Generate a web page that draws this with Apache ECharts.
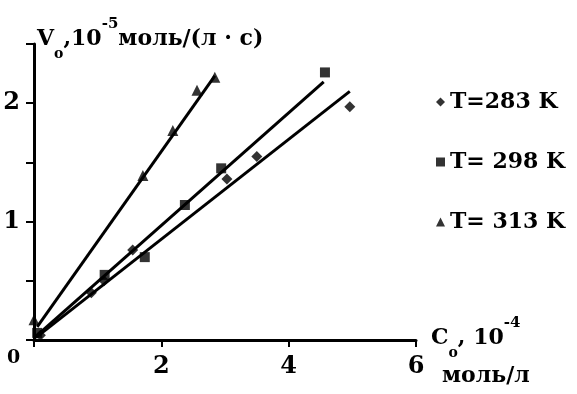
<!DOCTYPE html>
<html>
<head>
<meta charset="utf-8">
<script src="https://cdn.jsdelivr.net/npm/echarts@6/dist/echarts.min.js"></script>
<style>
html, body { margin: 0; padding: 0; background: #fff; }
#chart { width: 577px; height: 394px; }
</style>
</head>
<body>
<div id="chart"></div>
<script>
// values
var seriesNames = ['T=283 K', 'T= 298 K', 'T= 313 K'];
var seriesSymbols = ['diamond', 'rect', 'triangle'];

var x283 = [0.10, 0.90, 1.10, 1.55, 3.03, 3.50, 4.96];
var y283 = [0.04, 0.40, 0.50, 0.76, 1.36, 1.55, 1.97];
var x298 = [0.05, 1.11, 1.74, 2.37, 2.94, 4.57];
var y298 = [0.06, 0.55, 0.70, 1.14, 1.45, 2.26];
var x313 = [0.00, 1.71, 2.18, 2.56, 2.84];
var y313 = [0.17, 1.39, 1.77, 2.11, 2.22];

// straight fitted lines, ends
var fitX283 = [0.03, 4.96], fitY283 = [0.02, 2.10];
var fitX298 = [0.03, 4.55], fitY298 = [0.03, 2.18];
var fitX313 = [0.05, 2.84], fitY313 = [0.11, 2.23];

var yTickLabels = [1, 2];

function zip(xs, ys) {
    var out = [];
    for (var i = 0; i < xs.length; i++) {
        out.push([xs[i], ys[i]]);
    }
    return out;
}

var FONT = 'DejaVu Serif';
var pointSets = [zip(x283, y283), zip(x298, y298), zip(x313, y313)];
var fitSets = [zip(fitX283, fitY283), zip(fitX298, fitY298), zip(fitX313, fitY313)];
var symbolSizes = [11, 10, 11];

var series = [];
for (var k = 0; k < 3; k++) {
    series.push({
        type: 'line',
        data: fitSets[k],
        symbol: 'none',
        silent: true,
        lineStyle: { color: '#000', width: 3 },
        z: 2
    });
}
for (var k = 0; k < 3; k++) {
    series.push({
        name: seriesNames[k],
        type: 'scatter',
        data: pointSets[k],
        symbol: seriesSymbols[k],
        symbolSize: symbolSizes[k],
        itemStyle: { color: '#000' },
        z: 3
    });
}

var richName = {
    v: { font: 'bold 22px "DejaVu Serif"', fill: '#000', lineHeight: 44, verticalAlign: 'middle' },
    sub: { font: 'bold 14px "DejaVu Serif"', fill: '#000', lineHeight: 26, verticalAlign: 'bottom' },
    sup: { font: 'bold 15px "DejaVu Serif"', fill: '#000', lineHeight: 18, verticalAlign: 'top' }
};

var myChart = echarts.init(document.getElementById('chart'), null, { renderer: 'canvas' });

var option = {
    backgroundColor: '#fff',
    animation: false,
    grid: { left: 34, right: 161, top: 44, bottom: 54 },
    legend: {
        data: seriesNames,
        orient: 'vertical',
        left: 431,
        top: 84,
        itemWidth: 9,
        itemHeight: 9,
        itemGap: 34,
        textStyle: { fontFamily: FONT, fontWeight: 'bold', fontSize: 22, lineHeight: 26, color: '#000' }
    },
    xAxis: {
        type: 'value',
        min: 0,
        max: 6,
        interval: 2,
        splitLine: { show: false },
        axisLine: { lineStyle: { color: '#000', width: 3 } },
        axisTick: { length: 7, lineStyle: { color: '#000', width: 2 } },
        axisLabel: {
            margin: 15,
            color: '#000',
            fontFamily: FONT,
            fontWeight: 'bold',
            fontSize: 24,
            formatter: function (v) { return v === 0 ? '' : String(v); }
        }
    },
    yAxis: {
        type: 'value',
        min: 0,
        max: 2.5,
        interval: 0.5,
        splitLine: { show: false },
        axisLine: { lineStyle: { color: '#000', width: 3 } },
        axisTick: { length: 8, lineStyle: { color: '#000', width: 2 } },
        axisLabel: {
            margin: 14,
            color: '#000',
            fontFamily: FONT,
            fontWeight: 'bold',
            fontSize: 24,
            formatter: function (v) { return yTickLabels.indexOf(v) >= 0 ? String(v) : ''; }
        }
    },
    graphic: [
        {
            type: 'text',
            left: 7,
            top: 349,
            style: { text: '0', font: 'bold 19px "DejaVu Serif"', fill: '#000' }
        },
        {
            type: 'text',
            x: 37,
            y: 39,
            style: {
                text: '{v|V}{sub|o}{v|,10}{sup|-5}{v|моль/(л · с)}',
                verticalAlign: 'middle',
                rich: richName
            }
        },
        {
            type: 'text',
            x: 431,
            y: 338,
            style: {
                text: '{v|C}{sub|o}{v|, 10}{sup|-4}',
                verticalAlign: 'middle',
                rich: richName
            }
        },
        {
            type: 'text',
            x: 442,
            y: 376,
            style: { text: 'моль/л', font: 'bold 22px "DejaVu Serif"', fill: '#000', verticalAlign: 'middle' }
        }
    ],
    series: series
};

myChart.setOption(option);
window.onresize = myChart.resize;
</script>
</body>
</html>
